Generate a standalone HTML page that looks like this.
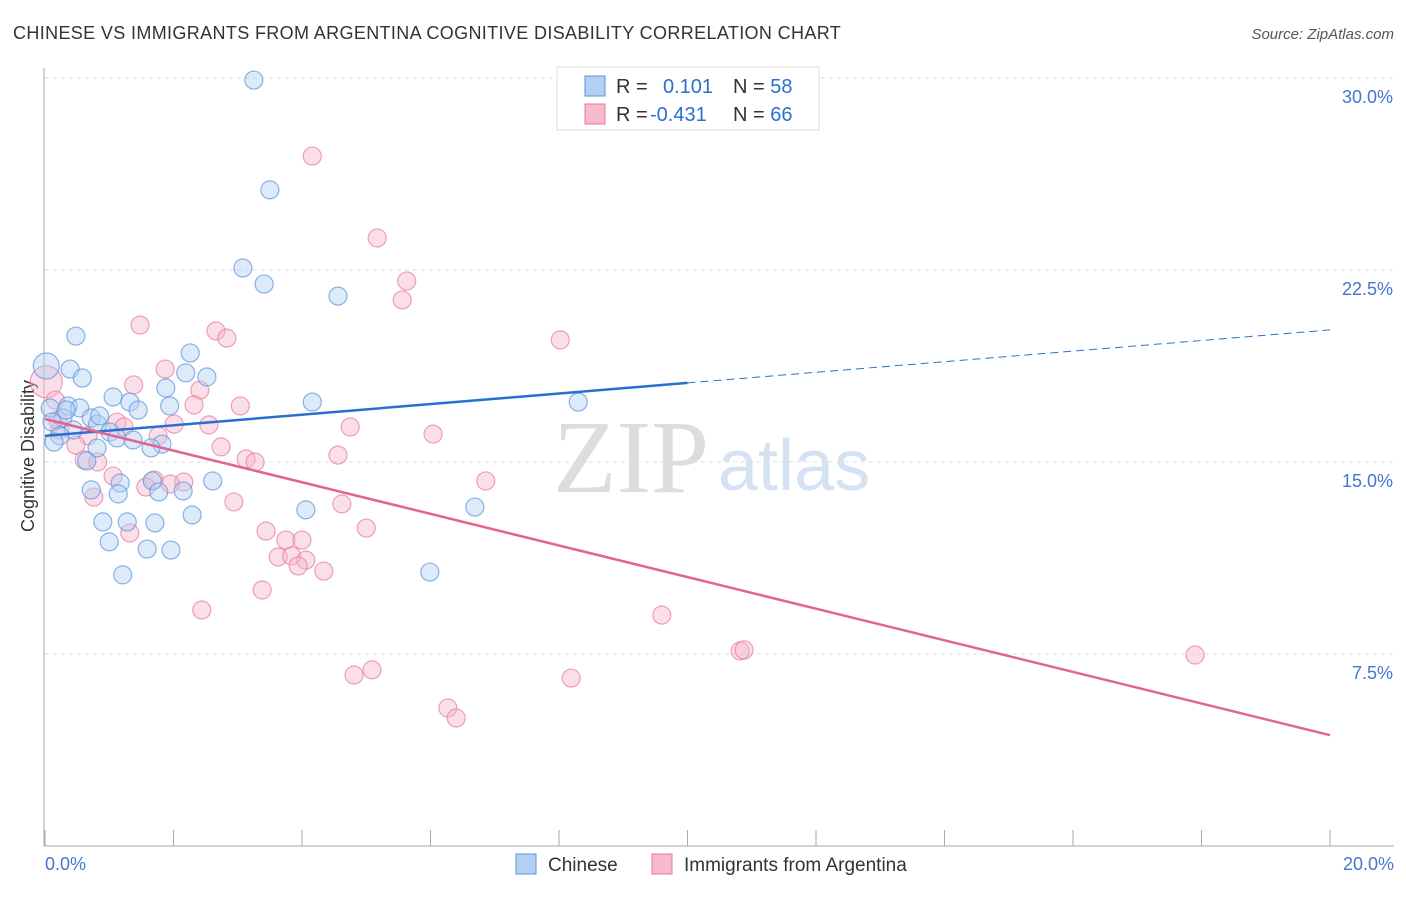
<!DOCTYPE html>
<html><head><meta charset="utf-8"><style>
body{margin:0;background:#fff;font-family:"Liberation Sans",sans-serif;}
</style></head><body>
<svg id="chart" width="1406" height="892" xmlns="http://www.w3.org/2000/svg" font-family="Liberation Sans, sans-serif">
<text x="13" y="39" font-size="18" fill="#333" letter-spacing="0.36">CHINESE VS IMMIGRANTS FROM ARGENTINA COGNITIVE DISABILITY CORRELATION CHART</text>
<text x="1394" y="39" font-size="15" fill="#555" text-anchor="end" font-style="italic">Source: ZipAtlas.com</text>
<text x="553" y="492" font-size="104" fill="#ddd" font-family="Liberation Serif, serif">ZIP</text>
<text x="718" y="490" font-size="72" fill="#d4e2f4">atlas</text>
<g id="grid"></g>
<g id="axes"></g>
<g id="marks"></g>
<g id="legend"></g>
</svg>
<script>
const yTicks=[7.5,15,22.5,30];
const yTickLabels=["7.5%","15.0%","22.5%","30.0%"];
const xTickLabels=["0.0%","20.0%"];
const blueX=[3.25,3.50,3.08,3.41,4.56,0.48,2.26,0.02,0.39,0.58,2.19,2.52,1.88,1.06,1.32,4.16,8.30,1.94,0.08,0.36,0.54,1.45,0.72,0.28,0.11,0.82,0.44,0.23,1.01,1.12,1.37,1.82,1.65,0.14,0.81,0.65,2.61,1.67,1.17,2.15,1.77,0.72,1.14,6.69,4.06,2.29,0.90,1.28,1.71,1.00,1.59,1.96,1.21,5.99,0.33,0.85];
const blueY=[29.92,25.63,22.58,21.95,21.48,19.92,19.26,18.75,18.63,18.28,18.48,18.32,17.89,17.54,17.34,17.34,17.34,17.19,17.11,17.19,17.11,17.03,16.72,16.72,16.56,16.48,16.25,16.02,16.17,15.94,15.86,15.70,15.55,15.78,15.55,15.04,14.26,14.26,14.18,13.87,13.83,13.91,13.75,13.24,13.13,12.93,12.66,12.66,12.62,11.88,11.60,11.56,10.59,10.70,17.03,16.80];
const pinkX=[4.16,5.17,5.63,5.56,1.48,2.66,2.83,8.02,0.02,1.87,1.38,2.41,0.16,2.32,3.04,1.12,1.23,2.01,2.55,4.75,6.04,0.23,0.67,1.76,0.48,2.74,4.56,3.13,3.27,0.61,0.82,1.06,6.86,1.70,2.16,1.95,1.57,0.76,2.94,4.62,5.00,3.44,1.32,3.75,4.00,3.63,3.84,4.06,3.94,4.34,3.38,2.44,9.60,10.82,10.88,17.90,5.09,4.81,8.19,6.27,6.40,0.20];
const pinkY=[26.95,23.75,22.07,21.33,20.35,20.12,19.84,19.77,18.13,18.63,18.01,17.81,17.42,17.23,17.19,16.56,16.37,16.48,16.45,16.37,16.09,16.25,16.02,16.02,15.66,15.59,15.27,15.12,15.00,15.08,15.00,14.45,14.26,14.30,14.22,14.14,14.02,13.63,13.44,13.36,12.42,12.30,12.23,11.95,11.95,11.29,11.33,11.17,10.94,10.74,10.00,9.22,9.02,7.62,7.66,7.46,6.88,6.68,6.56,5.39,5.00,16.64];
const blueTrend=[0,16.02,10,18.09,20,20.16];
const pinkTrend=[0,16.68,20,4.33];
const NS="http://www.w3.org/2000/svg";
const X=v=>45+v/20*1285, Y=v=>846-v/7.5*192;
function mk(t,a,p){const e=document.createElementNS(NS,t);for(const k in a)e.setAttribute(k,a[k]);p.appendChild(e);return e;}
const grid=document.getElementById('grid'),axes=document.getElementById('axes'),marks=document.getElementById('marks'),leg=document.getElementById('legend');
yTicks.forEach((t,i)=>{
 const l=mk('line',{x1:45,x2:1394,y1:Y(t),y2:Y(t),stroke:'#ddd','stroke-dasharray':'4,4'},grid);
 
 
 const tx=mk('text',{x:1393,y:Y(t)+25,'font-size':18,fill:'#4477cc','text-anchor':'end'},axes);
 tx.textContent=yTickLabels[i];
 
 
});
let a=mk('line',{x1:44,x2:44,y1:68,y2:846,stroke:'#aaa'},axes);

a=mk('line',{x1:44,x2:1394,y1:846,y2:846,stroke:'#aaa'},axes);

for(let i=0;i<=10;i++){const t=mk('line',{x1:X(i*2),x2:X(i*2),y1:830,y2:846,stroke:'#aaa'},axes);
 }
[[0,'start',45],[1,'end',1394]].forEach(([i,an,x])=>{const t=mk('text',{x:x,y:870,'font-size':18,fill:'#4477cc','text-anchor':an},axes);t.textContent=xTickLabels[i];
 });
const yt=mk('text',{x:34,y:456,'font-size':18,fill:'#333','text-anchor':'middle',transform:'rotate(-90 34 456)'},axes);
yt.textContent='Cognitive Disability';

function dots(xs,ys,fill,stroke,name){xs.forEach((x,i)=>{const r=(i===(name==='blue-point'?7:8)&&x<0.05)?(name==='blue-point'?13:16):9;
 const c=mk('circle',{cx:X(x),cy:Y(ys[i]),r:r,fill:fill,'fill-opacity':0.45,stroke:stroke,'stroke-opacity':0.7,'stroke-width':1.2},marks);
 });}
dots(pinkX,pinkY,'#f7b9cc','#e8799c','argentina-point');
dots(blueX,blueY,'#b3d0f2','#5b93dc','blue-point');
let t=mk('line',{x1:X(blueTrend[0]),y1:Y(blueTrend[1]),x2:X(blueTrend[2]),y2:Y(blueTrend[3]),stroke:'#2a6fd0','stroke-width':2.5},marks);

t=mk('line',{x1:X(blueTrend[2]),y1:Y(blueTrend[3]),x2:X(blueTrend[4]),y2:Y(blueTrend[5]),stroke:'#2a6fd0','stroke-width':1,'stroke-dasharray':'8,5'},marks);

t=mk('line',{x1:X(pinkTrend[0]),y1:Y(pinkTrend[1]),x2:X(pinkTrend[2]),y2:Y(pinkTrend[3]),stroke:'#e0658f','stroke-width':2.5},marks);

let b=mk('rect',{x:557,y:67,width:262,height:63,fill:'#fff',stroke:'#ddd'},leg);

[[0,'#b3d0f2','#5b93dc','0.101','58'],[1,'#f7b9cc','#e8799c','-0.431','66']].forEach(([i,f,s,r,n])=>{
 const y=76+i*28;
 const sw=mk('rect',{x:585,y:y,width:20,height:20,fill:f,stroke:s},leg);
 
 const tx=mk('text',{x:616,y:y+17,'font-size':20,fill:'#333'},leg);
 tx.innerHTML='R = <tspan fill="#2a6fd0" x="'+(i?650:663)+'">'+r+'</tspan><tspan fill="#333" x="733">N = </tspan><tspan fill="#2a6fd0">'+n+'</tspan>';
 
});
[[516,'#b3d0f2','#5b93dc','Chinese'],[652,'#f7b9cc','#e8799c','Immigrants from Argentina']].forEach(([x,f,s,l])=>{
 const sw=mk('rect',{x:x,y:854,width:20,height:20,fill:f,stroke:s},leg);
 
 const tx=mk('text',{x:x+32,y:871,'font-size':19,fill:'#333'},leg);tx.textContent=l;
 
});
</script>
</body></html>
